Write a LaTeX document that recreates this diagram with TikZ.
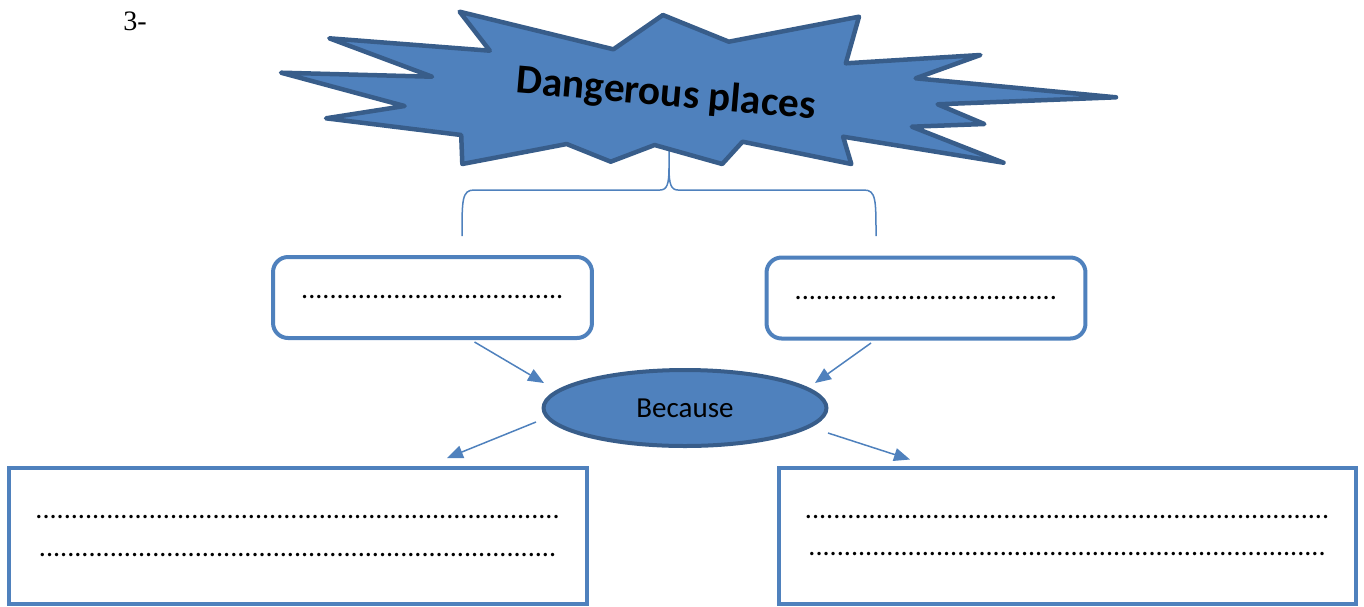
\documentclass[tikz,border=0pt]{standalone}
\usepackage{fontspec}
\setmainfont{Carlito}
\newfontfamily\numfont{Liberation Serif}
\usepackage{tikz}
\usetikzlibrary{arrows.meta,shapes.geometric,calc}
\definecolor{officeblue}{HTML}{4F81BD}
\definecolor{darkblue}{HTML}{385D8A}
\newcommand{\blank}[1]{\foreach \i in {1,...,#1}{.}}

\begin{document}
\begin{tikzpicture}[x=0.02cm, y=-0.02cm,
	roundbox/.style={draw=officeblue, line width=0.08cm, rounded corners=0.3cm, fill=white, minimum width=6.38cm, minimum height=1.62cm, font=\fontsize{16}{19}\selectfont},
	widebox/.style={draw=officeblue, line width=0.08cm, fill=white, minimum width=11.56cm, minimum height=2.72cm, align=center, font=\fontsize{16}{21.5}\selectfont},
	arr/.style={officeblue, line width=0.03cm, -{Triangle[length=0.32cm, width=0.26cm]}},
	brace/.style={officeblue, line width=0.03cm}]
			\useasboundingbox (0, 0) rectangle (1364, 606);
			\def \n{37};
			\def \m{74};
			% brace under the star
			\draw[brace] (462, 236) .. controls (462, 200) and (462, 190) .. (474, 190) -- (660, 190) .. controls (667, 190) and (669, 184) .. (669, 168) -- (669, 146);
			\draw[brace] (876, 236) .. controls (876, 200) and (876, 190) .. (864, 190) -- (678, 190) .. controls (671, 190) and (669, 184) .. (669, 168);
			% star
			\draw[fill=officeblue, draw=darkblue, line width=0.09cm, line join=round] (459.6, 11.7) -- (613.4, 49.3) -- (662.9, 15) -- (728.8, 41.7) -- (859, 16.7) -- (845.8, 63.3) -- (980.4, 55) -- (915.6, 78.3) -- (1116, 97.3) -- (937.6, 104.3) -- (984.3, 124) -- (911.8, 126.7) -- (1003.5, 162.7) -- (843.1, 136.7) -- (851.3, 164) -- (742.5, 141.7) -- (722.2, 164) -- (654.6, 145) -- (610.7, 161.7) -- (566.7, 144) -- (462.3, 164) -- (461.2, 135) -- (326, 118.3) -- (404.6, 106) -- (281, 72.7) -- (432.1, 76.7) -- (329.3, 38.3) -- (489.8, 50.7) -- cycle;
			\node[rotate=-5, font=\bfseries\fontsize{23.5}{28}\selectfont] (title) at (666, 95) {Dangerous places};
			\node[] (num) at (135, 21) {\numfont\fontsize{16}{19}\selectfont 3-};
			% boxes
			\node[roundbox] (topL) at (432.5, 297.5) {\blank{\n}};
			\node[roundbox] (topR) at (926, 298) {\blank{\n}};
			\node[ellipse, draw=darkblue, fill=officeblue, line width=0.08cm, inner sep=0pt, minimum width=5.66cm, minimum height=1.52cm, font=\fontsize{16.5}{19}\selectfont] (because) at (685, 408) {Because};
			\node[widebox] (botL) at (298, 536) {\blank{\m}\\\blank{73}};
			\node[widebox] (botR) at (1067.5, 535.5) {\blank{\m}\\\blank{73}};
			% arrows
			\draw[arr] ($(topL.south)+(42, 2)$) -- ($(because.center)+(-141, -25)$);
			\draw[arr] ($(topR.south)+(-55, 2.5)$) -- ($(because.center)+(130, -25)$);
			\draw[arr] ($(because.center)+(-149, 14)$) -- ($(botL.north)+(149, -8)$);
			\draw[arr] ($(because.center)+(143, 25)$) -- ($(botR.north)+(-157.5, -6)$);
		\end{tikzpicture}
\end{document}
